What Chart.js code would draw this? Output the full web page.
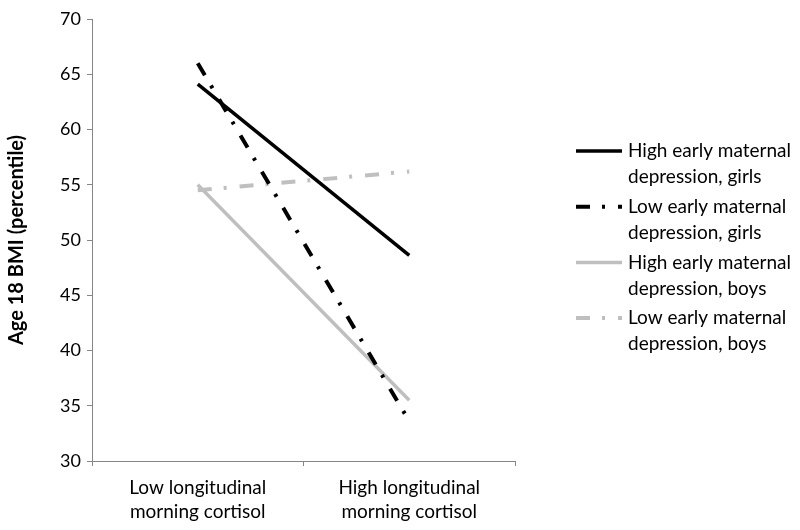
<!DOCTYPE html>
<html>
<head>
<meta charset="utf-8">
<script src="https://cdn.jsdelivr.net/npm/chart.js@4/dist/chart.umd.min.js"></script>
<style>
html,body{margin:0;padding:0;background:#fff;}
#wrap{width:800px;height:530px;position:relative;}
</style>
</head>
<body>
<div id="wrap"><canvas id="c" width="800" height="530"></canvas></div>
<script>
const categories = [['Low longitudinal','morning cortisol'],['High longitudinal','morning cortisol']];
const seriesNames = [
  ['High early maternal','depression, girls'],
  ['Low early maternal','depression, girls'],
  ['High early maternal','depression, boys'],
  ['Low early maternal','depression, boys']
];
const highGirls = [64.1, 48.6];
const lowGirls = [66.0, 33.6];
const highBoys = [55.0, 35.5];
const lowBoys = [54.5, 56.2];
const yTicks = [30, 35, 40, 45, 50, 55, 60, 65, 70];

const FONT = 'Lato, "Open Sans", sans-serif';
const dashDot = [14, 12, 3, 13];

const legendPlugin = {
  id: 'customLegend',
  afterDraw(chart) {
    const ctx = chart.ctx;
    const x0 = 576, x1 = 622, tx = 628;
    const top = 151, lineGap = 26, entryGap = 55.7;
    ctx.save();
    chart.data.datasets.forEach((ds, i) => {
      const y = top + i * entryGap;
      ctx.beginPath();
      ctx.strokeStyle = ds.borderColor;
      ctx.lineWidth = ds.borderWidth;
      ctx.lineCap = 'butt';
      ctx.setLineDash(ds.borderDash || []);
      ctx.moveTo(x0, y);
      ctx.lineTo(x1, y);
      ctx.stroke();
      ctx.setLineDash([]);
      ctx.fillStyle = '#000';
      ctx.font = '19px ' + FONT;
      ctx.textBaseline = 'middle';
      ctx.textAlign = 'left';
      const lines = ds.legendLines;
      lines.forEach((t, j) => ctx.fillText(t, tx, y + j * lineGap));
    });
    ctx.restore();
  }
};

new Chart(document.getElementById('c'), {
  type: 'line',
  data: {
    labels: categories,
    datasets: [
      { label: seriesNames[0].join(' '), legendLines: seriesNames[0], data: highGirls, borderColor: '#000000', borderWidth: 3.5, pointRadius: 0, borderCapStyle: 'butt' },
      { label: seriesNames[1].join(' '), legendLines: seriesNames[1], data: lowGirls, borderColor: '#000000', borderWidth: 4, borderDash: dashDot, pointRadius: 0, borderCapStyle: 'butt' },
      { label: seriesNames[2].join(' '), legendLines: seriesNames[2], data: highBoys, borderColor: '#bfbfbf', borderWidth: 3.5, pointRadius: 0, borderCapStyle: 'butt' },
      { label: seriesNames[3].join(' '), legendLines: seriesNames[3], data: lowBoys, borderColor: '#bfbfbf', borderWidth: 4, borderDash: dashDot, pointRadius: 0, borderCapStyle: 'butt' }
    ]
  },
  options: {
    responsive: false,
    animation: false,
    layout: { padding: { left: 0, right: 285, top: 19, bottom: 0 } },
    plugins: { legend: { display: false }, tooltip: { enabled: false } },
    scales: {
      x: {
        offset: true,
        grid: { display: true, drawOnChartArea: false, drawTicks: true, tickLength: 5, color: '#868686', offset: true },
        border: { display: true, color: '#868686', width: 1 },
        ticks: { color: '#000', font: { family: FONT, size: 19, lineHeight: 1.26 }, padding: 10, maxRotation: 0 },
        afterFit(scale) { scale.height = 69; }
      },
      y: {
        min: 30, max: 70,
        afterBuildTicks(scale) { scale.ticks = yTicks.map(v => ({ value: v })); },
        grid: { display: true, drawOnChartArea: false, drawTicks: true, tickLength: 5, color: '#868686' },
        border: { display: true, color: '#868686', width: 1 },
        ticks: { color: '#000', font: { family: FONT, size: 18 }, padding: 6 },
        title: { display: true, text: 'Age 18 BMI (percentile)', color: '#000', font: { family: FONT, size: 20, weight: 'bold', lineHeight: 1.2 }, padding: { top: 5, bottom: 0 } },
        afterFit(scale) { scale.width = 92; }
      }
    }
  },
  plugins: [legendPlugin]
});
</script>
</body>
</html>
